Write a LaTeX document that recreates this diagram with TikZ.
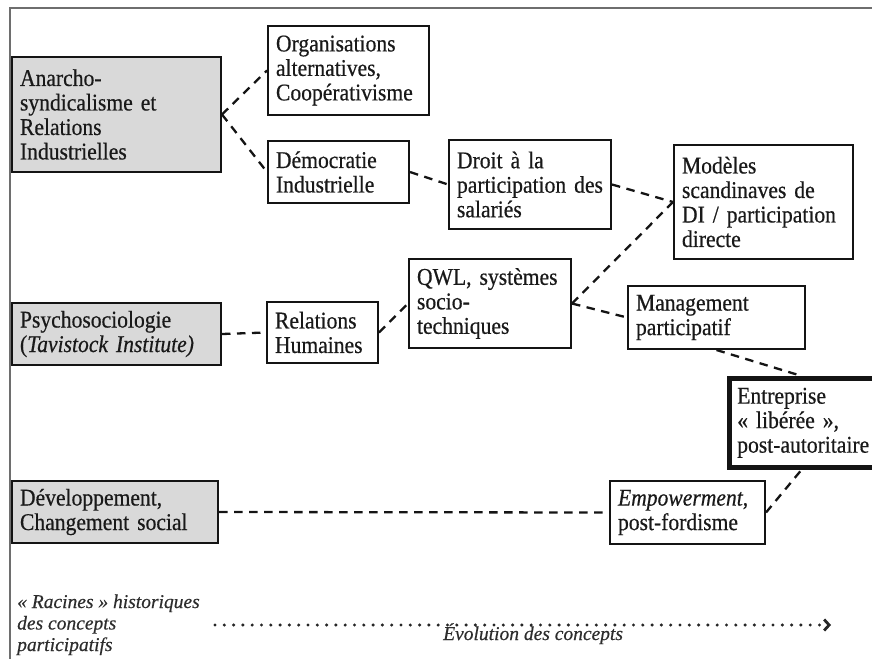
\documentclass[tikz,border=0pt]{standalone}
\usepackage{fontspec}
\setmainfont{Liberation Serif}[FakeStretch=0.9, FakeBold=0.5]
\newfontfamily\botfont{Liberation Serif}[FakeBold=0.5]
\usetikzlibrary{arrows.meta}
\definecolor{rootgray}{RGB}{217,217,217}
\definecolor{boxline}{RGB}{20,20,20}
\definecolor{framec}{RGB}{110,110,110}
\definecolor{textc}{RGB}{25,25,25}
\definecolor{botc}{RGB}{45,45,45}
\newcommand\mainsize{\fontsize{24pt}{24.5pt}\selectfont\hyphenpenalty=10000\exhyphenpenalty=10000}
\newcommand\botsize{\botfont\itshape\fontsize{19.5pt}{21.5pt}\selectfont}
\tikzset{
  bx/.style={draw=boxline, line width=2pt, fill=white, inner xsep=8pt, inner ysep=0pt,
    align=left, anchor=north west, font=\mainsize, text=textc},
  root/.style={bx, fill=rootgray},
  dl/.style={draw=boxline, line width=2.3pt, dash pattern=on 8.5pt off 6.5pt},
  framel/.style={draw=framec, line width=1.8pt},
  dotarrow/.style={draw=black!85, line width=3.4pt, line cap=round, dash pattern=on 0pt off 9.3pt,
    -{Straight Barb[length=5pt, width=11pt, line width=2.8pt]}},
  bottxt/.style={anchor=base west, inner sep=0pt, text=botc, font=\botsize}
}
\begin{document}
\begin{tikzpicture}[x=1pt, y=-1pt]
\useasboundingbox (0,0) rectangle (872,659);
% frame
\coordinate (fTL) at (10,8);
\coordinate (fTR) at (872,8);
\coordinate (fBL) at (10,659);
\draw[framel] (fTR) -- (fTL) -- (fBL);
% root boxes
\node[root, text width=193pt, minimum height=115pt] (A) at (11,56) {Anarcho-\\syndicalisme et\\Relations\\Industrielles};
\node[root, text width=193pt, minimum height=62pt] (psy) at (11,302) {Psychosociologie\\(\textit{Tavistock Institute)}};
\node[root, text width=190pt, minimum height=62pt] (dev) at (11,480) {Développement,\\Changement social};
% concept boxes
\node[bx, text width=145pt, minimum height=89pt] (org) at (267,25) {Organisations\\alternatives,\\Coopérativisme};
\node[bx, text width=125pt, minimum height=62pt] (dem) at (267,140) {Démocratie\\Industrielle};
\node[bx, text width=146pt, minimum height=89pt] (droit) at (448,139) {Droit à la\\participation des\\salariés};
\node[bx, text width=163pt, minimum height=114pt] (mod) at (673,144) {Modèles\\scandinaves de\\DI / participation\\directe};
\node[bx, text width=95pt, minimum height=61pt] (rh) at (266,301) {Relations\\Humaines};
\node[bx, text width=146pt, minimum height=89pt] (qwl) at (408,258) {QWL, systèmes\\socio-\\techniques};
\node[bx, text width=161pt, minimum height=63pt] (mgmt) at (627,285) {Management\\participatif};
\node[bx, line width=4.5pt, text width=129pt, minimum height=89pt] (ent) at (727,376) {Entreprise\\«~libérée~»,\\\mbox{post-autoritaire}};
\node[bx, text width=139pt, minimum height=63pt] (emp) at (609,480) {\textit{Empowerment},\\post-fordisme};
% connectors
\draw[dl] (A.east) -- (org.west);
\draw[dl] (A.east) -- (dem.west);
\draw[dl] (dem.east) -- (droit.west);
\draw[dl] (droit.east) -- (mod.west);
\draw[dl] (qwl.east) -- (mod.west);
\draw[dl] (qwl.east) -- (mgmt.west);
\draw[dl] (rh.east) -- (qwl.west);
\draw[dl] (psy.east) -- (rh.west);
\draw[dl] (dev.east) -- (emp.west);
\draw[dl] (emp.east) -- (ent.south);
\draw[dl] (mgmt.south) -- (ent.north);
% bottom legend
\node[bottxt] (roots) at (17,608) {\begin{tabular}[t]{@{}l@{}}«~Racines~» historiques\\des concepts\\participatifs\end{tabular}};
\coordinate (d0) at (215,625);
\coordinate (d1) at (831,625);
\draw[dotarrow] (d0) -- (d1);
\node[bottxt] (evo) at (443,640) {Évolution des concepts};
\end{tikzpicture}
\end{document}
